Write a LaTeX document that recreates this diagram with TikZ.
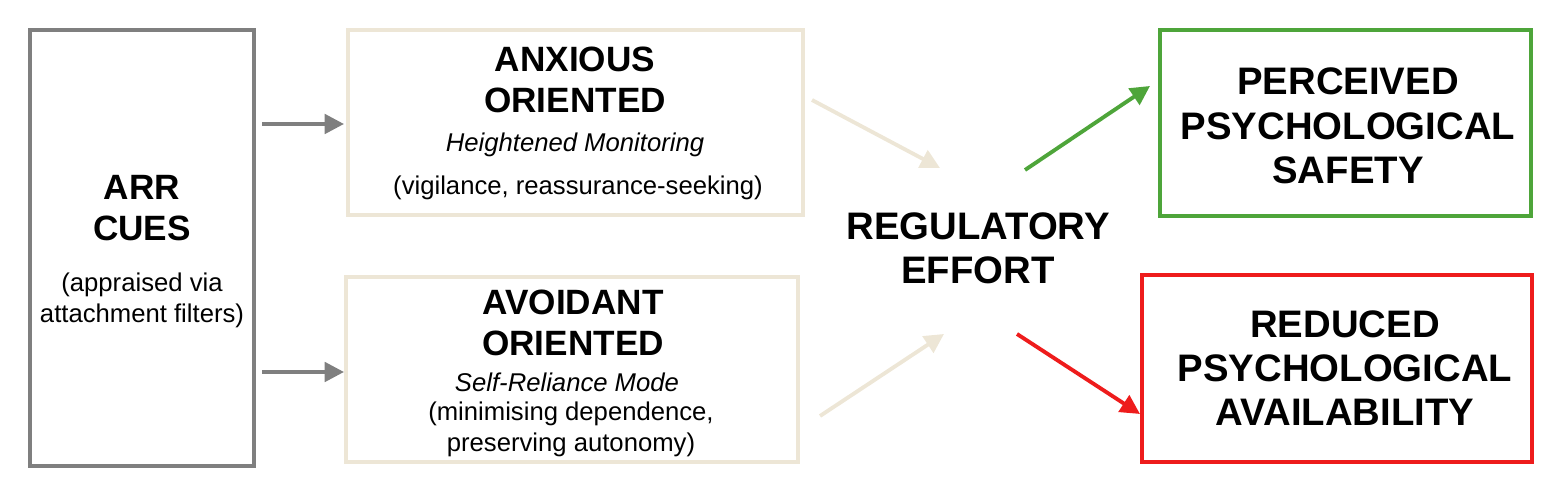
\documentclass[tikz,border=0pt]{standalone}
\usepackage{fontspec}
\setmainfont{Liberation Sans}
\usetikzlibrary{arrows.meta,positioning}
\definecolor{boxgrey}{HTML}{7F7F7F}
\definecolor{beige}{HTML}{EDE6D6}
\definecolor{safegreen}{HTML}{4EA53A}
\definecolor{alertred}{HTML}{EE1C1C}
\tikzstyle{block} = [rectangle, draw, line width=1pt, align=center, inner sep=0pt]
\tikzstyle{line} = [draw, line width=1.1pt, -{Triangle[length=5.5pt,width=5.5pt]}]
\tikzstyle{title} = [font=\fontsize{10}{11.5}\selectfont\bfseries]
\tikzstyle{big} = [font=\fontsize{10.9}{12.6}\selectfont\bfseries]

\begin{document}
\begin{tikzpicture}[x=0.01cm, y=-0.01cm]
    \useasboundingbox (0,0) rectangle (1564,492);
    % boxes
    \node [block, draw=boxgrey, minimum width=2.24cm, minimum height=4.36cm] (arr) at (142,248) {};
    \node [block, draw=beige, minimum width=4.55cm, minimum height=1.85cm] (anx) at (575.5,122.5) {};
    \node [block, draw=beige, minimum width=4.52cm, minimum height=1.85cm] (avo) at (572,369.5) {};
    \node [block, draw=safegreen, minimum width=3.71cm, minimum height=1.86cm] (safe) at (1345.5,123) {};
    \node [block, draw=alertred, minimum width=3.9cm, minimum height=1.87cm] (avail) at (1337,368.5) {};
    % texts
    \node [title, align=center] (arrt) at (142,208) {ARR\\CUES};
    \node [align=center, font=\fontsize{7.3}{8.6}\selectfont, below=0.08cm of arrt] (arrs) {(appraised via\\attachment filters)};
    \node [title, align=center] (anxt) at (575,80) {ANXIOUS\\ORIENTED};
    \node [font=\fontsize{7.3}{8}\selectfont\itshape] (anxm) at (575,145) {Heightened Monitoring};
    \node [font=\fontsize{7.3}{8}\selectfont] (anxs) at (578,188) {(vigilance, reassurance-seeking)};
    \node [title, align=center] (avot) at (573,323) {AVOIDANT\\ORIENTED};
    \node [font=\fontsize{7.3}{8}\selectfont\itshape] (avom) at (567,382) {Self-Reliance Mode};
    \node [align=center, font=\fontsize{7.3}{8.8}\selectfont] (avos) at (571,429) {(minimising dependence,\\preserving autonomy)};
    \node [big, align=center] (reg) at (978,248) {REGULATORY\\EFFORT};
    \node [big, align=center] (safet) at (1348,126) {PERCEIVED\\PSYCHOLOGICAL\\SAFETY};
    \node [big, align=center] (availt) at (1345,368) {REDUCED\\PSYCHOLOGICAL\\AVAILABILITY};
    % arrow ends
    \coordinate (a1) at (262,124); \coordinate (a2) at (344,124);
    \coordinate (b1) at (262,372); \coordinate (b2) at (344,372);
    \coordinate (c1) at (812,100); \coordinate (c2) at (940,168);
    \coordinate (d1) at (820,416); \coordinate (d2) at (944,334);
    \coordinate (e1) at (1025,170); \coordinate (e2) at (1150,86);
    \coordinate (f1) at (1017,334); \coordinate (f2) at (1140,414);
    % edges
    \path [line, draw=boxgrey] (a1) -- (a2);
    \path [line, draw=boxgrey] (b1) -- (b2);
    \path [line, draw=beige] (c1) -- (c2);
    \path [line, draw=beige] (d1) -- (d2);
    \path [line, draw=safegreen] (e1) -- (e2);
    \path [line, draw=alertred] (f1) -- (f2);
\end{tikzpicture}
\end{document}
